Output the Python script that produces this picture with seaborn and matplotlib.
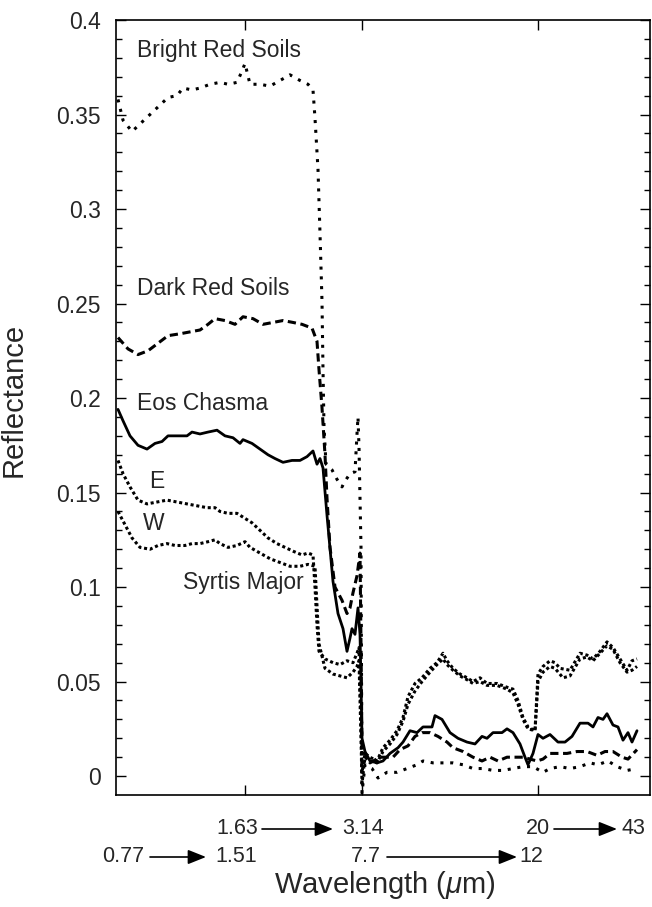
import numpy as np
import pandas as pd
import matplotlib
matplotlib.use("Agg")
import matplotlib.pyplot as plt
import matplotlib.transforms as mtransforms
import seaborn as sns

# Position along the spliced wavelength axis (segments 0.77-1.51, 1.63-3.14,
# 7.7-12 and 20-43 um laid end to end) and the reflectance of each spectrum.
bright_pos = [2, 7, 16, 24, 34, 44, 52, 61, 67, 76, 84, 94, 104, 112, 121, 126, 129,
              134, 144, 154, 164, 174, 184, 192, 197, 199, 202, 204, 206, 207, 208, 210,
              216, 221, 226, 229, 234, 239, 241, 242, 243, 244, 245, 246, 249, 256, 262,
              271, 281, 291, 301, 307, 317, 327, 337, 347, 357, 367, 377, 387, 397, 407,
              417, 427, 434, 444, 454, 464, 474, 482, 492, 501, 511, 521]
bright_refl = [.358, .347, .341, .345, .350, .355, .359, .360, .364, .363, .364, .366, .367,
               .366, .367, .373, .377, .366, .366, .365, .368, .371, .368, .366, .363, .348,
               .321, .287, .251, .215, .185, .165, .162, .157, .153, .156, .160, .161, .181,
               .190, .174, .147, .121, -.009, .006, .004, -.001, .002, .002, .004, .006,
               .008, .007, .007, .007, .006, .004, .004, .003, .003, .004, .005, .005, .002,
               .004, .005, .004, .005, .007, .006, .008, .005, .003, .004]

dark_pos = [2, 12, 22, 32, 42, 52, 64, 74, 84, 92, 99, 109, 119, 127, 137, 147, 157, 167,
            177, 186, 196, 201, 203, 206, 209, 211, 214, 219, 226, 231, 234, 237, 241, 243,
            244, 245, 246, 249, 254, 264, 271, 277, 284, 292, 299, 306, 314, 322, 331, 337,
            347, 357, 366, 374, 382, 391, 401, 407, 414, 421, 427, 434, 442, 451, 461, 471,
            481, 489, 497, 506, 512, 521]
dark_refl = [.232, .226, .223, .225, .229, .233, .234, .235, .236, .239, .242, .241, .239,
             .243, .242, .239, .240, .241, .240, .239, .237, .230, .215, .195, .170, .147,
             .121, .100, .093, .086, .089, .097, .106, .114, .118, .070, .012, .012, .007,
             .010, .010, .010, .014, .016, .021, .023, .023, .021, .018, .015, .013, .010,
             .008, .010, .008, .010, .010, .010, .009, .008, .009, .012, .012, .012, .013,
             .013, .011, .013, .013, .010, .009, .014]

eos_pos = [2, 7, 14, 22, 31, 39, 46, 52, 62, 71, 76, 84, 92, 101, 109, 117, 124, 127, 136,
           144, 152, 159, 167, 176, 184, 191, 197, 201, 204, 207, 211, 217, 222, 227, 231,
           234, 236, 239, 242, 244, 245, 246, 249, 254, 261, 267, 274, 282, 287, 294, 301,
           307, 316, 319, 326, 334, 342, 351, 359, 366, 371, 377, 386, 391, 397, 404, 409,
           412, 417, 422, 427, 434, 442, 449, 456, 464, 472, 477, 482, 487, 491, 497, 502,
           507, 512, 516, 521]
eos_refl = [.194, .188, .180, .175, .173, .176, .177, .180, .180, .180, .182, .181, .182,
            .183, .180, .179, .176, .178, .176, .173, .170, .168, .166, .167, .167, .169,
            .172, .165, .168, .163, .138, .103, .086, .078, .066, .073, .078, .075, .089,
            .075, .050, .020, .013, .008, .007, .008, .012, .015, .018, .024, .023, .026,
            .026, .032, .030, .023, .020, .018, .017, .021, .020, .023, .023, .025, .023,
            .017, .010, .006, .012, .022, .020, .022, .018, .018, .021, .028, .028, .026,
            .031, .030, .033, .027, .026, .019, .023, .018, .024]

syrtis_pos = [2, 7, 14, 22, 31, 41, 51, 61, 71, 81, 91, 99, 104, 112, 121, 127, 136, 144,
              152, 161, 169, 177, 186, 192, 197, 199, 201, 203, 209, 217, 224, 231, 237,
              241, 243, 245, 246, 249, 254, 261, 267, 274, 281, 287, 292, 299, 306, 314,
              321, 327, 331, 337, 344, 351, 357, 364, 371, 381, 391, 397, 402, 407, 412,
              419, 422, 427, 434, 439, 444, 454, 464, 471, 477, 484, 491, 497, 504, 511,
              516, 521]
syrtis_e_refl = [.167, .160, .153, .146, .144, .145, .146, .145, .144, .143, .142, .142,
                 .140, .139, .139, .137, .134, .130, .126, .123, .121, .119, .117, .118,
                 .117, .100, .080, .066, .062, .060, .059, .061, .060, .065, .068, .030,
                 .002, .012, .010, .008, .015, .019, .024, .031, .042, .049, .052, .057,
                 .060, .065, .061, .057, .054, .052, .050, .052, .049, .049, .047, .046,
                 .040, .031, .026, .024, .054, .058, .061, .060, .057, .056, .065, .064,
                 .062, .066, .071, .068, .062, .056, .061, .062]

syrtis_w_pos = [2, 7, 16, 24, 34, 42, 51, 59, 69, 76, 84, 92, 99, 104, 112, 121, 129, 134,
                144, 154, 164, 174, 184, 192, 199, 201, 203, 209, 217, 224, 231, 237, 241,
                243, 245, 246, 249, 254, 261, 267, 274, 281, 287, 292, 299, 306, 314, 321,
                327, 331, 337, 344, 351, 357, 364, 371, 381, 391, 397, 402, 407, 412, 419,
                422, 427, 434, 439, 447, 454, 464, 471, 477, 484, 491, 497, 504, 511, 516,
                521]
syrtis_w_refl = [.140, .135, .126, .121, .120, .122, .123, .122, .122, .123, .123, .124,
                 .125, .123, .121, .122, .124, .121, .118, .115, .113, .111, .111, .112,
                 .111, .090, .070, .057, .054, .053, .052, .055, .058, .061, .020, -.004,
                 .010, .008, .007, .013, .017, .022, .029, .038, .045, .050, .055, .059,
                 .062, .059, .056, .053, .051, .049, .050, .048, .048, .046, .044, .038,
                 .030, .025, .024, .050, .055, .058, .057, .052, .053, .062, .063, .061,
                 .065, .069, .067, .060, .055, .056, .058]

# segment joins on the spliced axis, and the wavelength labels drawn beneath it
seg_joins = [129, 246, 422]
upper_labels = [("1.63", 142, 146, 217, "3.14", 226), ("20", 434, 438, 501, "43", 505)]
lower_labels = [("0.77", 28, 34, 90, "1.51", 99), ("7.7", 265, 271, 401, "12", 403)]

sns.set_theme(style="white")
plt.rcParams["font.family"] = ["Liberation Sans", "DejaVu Sans"]
plt.rcParams["mathtext.fontset"] = "custom"
plt.rcParams["mathtext.rm"] = "Liberation Sans"
plt.rcParams["mathtext.it"] = "Liberation Sans:italic"

fig = plt.figure(figsize=(6.52, 9.07), dpi=100)
ax = fig.add_axes([116 / 652, 112 / 907, 534 / 652, 775 / 907])

styles = [
    (bright_pos, bright_refl, (0, (1, 2.2)), 2.2),
    (dark_pos, dark_refl, (0, (2.7, 1.5)), 2.2),
    (eos_pos, eos_refl, "-", 2.0),
    (syrtis_pos, syrtis_e_refl, (0, (1, 0.9)), 2.2),
    (syrtis_w_pos, syrtis_w_refl, (0, (1, 0.9)), 2.2),
]
for xs, ys, ls, lw in styles:
    sns.lineplot(x=np.array(xs), y=np.array(ys), ax=ax, color="black",
                 linestyle=ls, linewidth=lw, estimator=None, sort=False)

ax.set_xlim(0, 534)
ax.set_ylim(-0.01, 0.4)
ax.set_yticks(np.arange(0, 0.401, 0.05))
ax.set_yticklabels(["0", "0.05", "0.1", "0.15", "0.2", "0.25", "0.3", "0.35", "0.4"])
ax.set_yticks(np.arange(0, 0.401, 0.01), minor=True)
ax.set_xticks(seg_joins)
ax.set_xticklabels([])
ax.tick_params(axis="both", which="both", direction="in", color="black",
               top=True, right=True, bottom=True, left=True)
ax.tick_params(axis="y", which="major", length=7, width=1, labelsize=16.5, pad=11)
ax.tick_params(axis="y", which="minor", length=4, width=1)
ax.tick_params(axis="x", which="major", length=7.5, width=1)
for sp in ax.spines.values():
    sp.set_color("black")
    sp.set_linewidth(1.2)

ax.set_ylabel("Reflectance", fontsize=21)
ax.yaxis.set_label_coords(-0.165, 0.51)
ax.set_xlabel(r"Wavelength ($\mathit{\mu}$m)", fontsize=21)
ax.xaxis.set_label_coords(0.504, -0.116)
ax.xaxis.label.set_verticalalignment("center")

# curve names
ax.text(21, 0.384, "Bright Red Soils", fontsize=16.5, va="center")
ax.text(21, 0.258, "Dark Red Soils", fontsize=16.5, va="center")
ax.text(21, 0.197, "Eos Chasma", fontsize=16.5, va="center")
ax.text(33, 0.156, "E", fontsize=16.5, va="center")
ax.text(27, 0.1335, "W", fontsize=16.5, va="center")
ax.text(67, 0.1024, "Syrtis Major", fontsize=16.5, va="center")

# wavelength range labels with arrows under the axis
trans = mtransforms.blended_transform_factory(ax.transData, fig.transFigure)
for row, yf in ((upper_labels, 1 - 829 / 907), (lower_labels, 1 - 857 / 907)):
    for left_txt, lx, a0, a1, right_txt, rx in row:
        ax.text(lx, yf, left_txt, transform=trans, ha="right", va="center", fontsize=15.5)
        ax.text(rx, yf, right_txt, transform=trans, ha="left", va="center", fontsize=15.5)
        ax.annotate("", xy=(a1, yf), xytext=(a0, yf), xycoords=trans, textcoords=trans,
                    arrowprops=dict(arrowstyle="-|>,head_length=0.55,head_width=0.22",
                                    color="black", lw=1.2, mutation_scale=20,
                                    shrinkA=0, shrinkB=0),
                    annotation_clip=False)

fig.savefig("out.png", dpi=100)
